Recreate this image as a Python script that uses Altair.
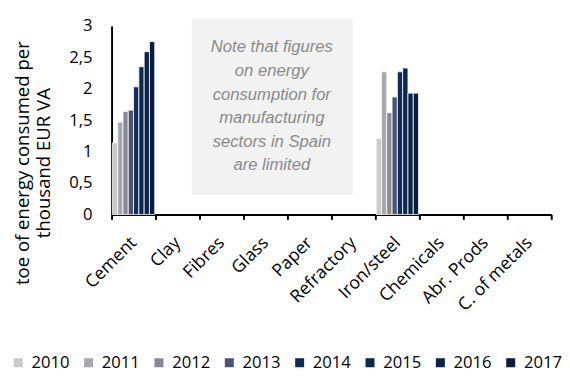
import altair as alt
import pandas as pd

categories = ["Cement", "Clay", "Fibres", "Glass", "Paper", "Refractory",
              "Iron/steel", "Chemicals", "Abr. Prods", "C. of metals"]
years = ["2010", "2011", "2012", "2013", "2014", "2015", "2016", "2017"]
cement = [1.14, 1.47, 1.64, 1.66, 2.03, 2.35, 2.59, 2.75]
iron_steel = [1.21, 2.27, 1.62, 1.87, 2.27, 2.33, 1.93, 1.93]
colors = ["#c9c9cc", "#a6a8ae", "#878a95", "#4b5471", "#0e2d5a", "#0b284f", "#0a2348", "#0a1d3d"]
note_lines = ["Note that figures", "on energy", "consumption for",
              "manufacturing", "sectors in Spain", "are limited"]

rows = []
for y, v in zip(years, cement):
    rows.append({"sector": "Cement", "year": y, "value": v})
for y, v in zip(years, iron_steel):
    rows.append({"sector": "Iron/steel", "year": y, "value": v})
df = pd.DataFrame(rows)

FONT = "Open Sans"

yscale = alt.Scale(domain=[0, 3], nice=False)

bars = alt.Chart(df).mark_bar(stroke="white", strokeWidth=0.8).encode(
    x=alt.X("sector:N", sort=categories,
            scale=alt.Scale(domain=categories, paddingInner=0, paddingOuter=0),
            axis=alt.Axis(title=None, labelAngle=-45, labelAlign="right", labelBaseline="middle",
                          labelPadding=21, tickBand="extent", tickSize=5, tickWidth=2,
                          tickColor="black", domainColor="black", domainWidth=2,
                          labelFont=FONT, labelFontSize=18, labelColor="black",
                          labelOverlap=False)),
    xOffset=alt.XOffset("year:N", sort=years,
                        scale=alt.Scale(paddingInner=0, paddingOuter=0.15)),
    y=alt.Y("value:Q", scale=yscale,
            axis=alt.Axis(title=["toe of energy consumed per", "thousand EUR VA"],
                          values=[0, 0.5, 1, 1.5, 2, 2.5, 3],
                          labelExpr="replace(format(datum.value, '.1~f'), '.', ',')",
                          labelOverlap=False,
                          grid=False, ticks=False, domainColor="black", domainWidth=2,
                          labelPadding=20, labelFont=FONT, labelFontSize=17,
                          labelColor="black", titleFont=FONT, titleFontSize=19,
                          titleFontWeight="normal", titleColor="black",
                          titleAngle=-90, titleX=-100, titleY=140,
                          titleAlign="center", titleBaseline="top", titleLineHeight=21)),
    color=alt.Color("year:N", sort=years,
                    scale=alt.Scale(domain=years, range=colors),
                    legend=alt.Legend(title=None, orient="none", direction="horizontal",
                                      columns=8, legendX=-104, legendY=336,
                                      symbolType="square", symbolSize=85,
                                      symbolStrokeWidth=0, labelFont=FONT,
                                      labelFontSize=17, labelColor="black",
                                      labelOffset=5, columnPadding=11)),
)

box = alt.Chart(pd.DataFrame({"a": [0]})).mark_rect(color="#f2f2f2").encode(
    x=alt.value(82), x2=alt.value(247),
    y=alt.value(-7), y2=alt.value(173),
)

note = alt.Chart(pd.DataFrame({"a": [0]})).mark_text(
    text=note_lines, font="Liberation Sans", fontStyle="italic", fontSize=17,
    color="#8a8a8a", align="center", baseline="middle", lineHeight=24.2,
).encode(x=alt.value(164), y=alt.value(22))

chart = alt.layer(box, note, bars).properties(
    width=450, height=193,
    padding={"left": 2, "top": 5, "right": 0, "bottom": 0},
).configure_view(stroke=None)

chart.save("out.html", embed_options={"renderer": "svg", "actions": False})
